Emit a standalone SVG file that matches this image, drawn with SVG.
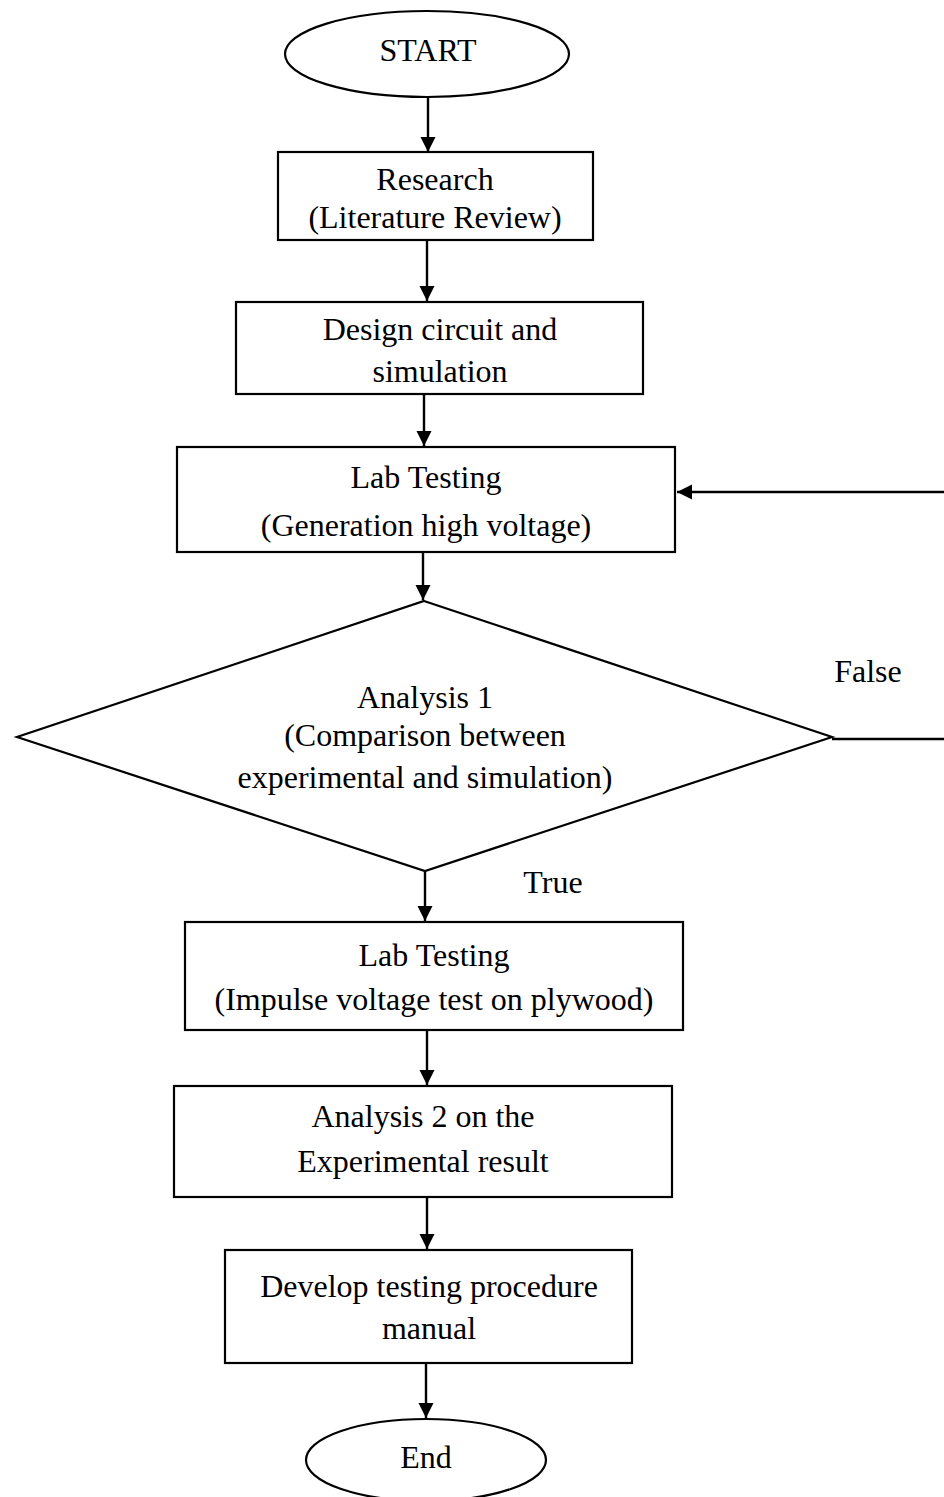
<svg xmlns="http://www.w3.org/2000/svg" width="944" height="1497" viewBox="0 0 944 1497">
<defs>
<marker id="ah" markerWidth="16" markerHeight="16" refX="15" refY="7.5" orient="auto" markerUnits="userSpaceOnUse">
<path d="M0,0 L15,7.5 L0,15 Z" fill="#000"/>
</marker>
<style>
.s{fill:#fff;stroke:#000;stroke-width:2.2}
.t{font-family:"Liberation Serif","Times New Roman",serif;font-size:32px;fill:#000;text-anchor:middle}
.c{fill:none;stroke:#000;stroke-width:2.4}
</style>
</defs>
<rect width="944" height="1497" fill="#fff"/>
<g id="connectors">
<line class="c" x1="428" y1="97" x2="428" y2="152" marker-end="url(#ah)"/>
<line class="c" x1="427" y1="240" x2="427" y2="301" marker-end="url(#ah)"/>
<line class="c" x1="424" y1="394" x2="424" y2="446" marker-end="url(#ah)"/>
<line class="c" x1="423" y1="552" x2="423" y2="600" marker-end="url(#ah)"/>
<line class="c" x1="425" y1="871" x2="425" y2="921" marker-end="url(#ah)"/>
<line class="c" x1="427" y1="1030" x2="427" y2="1085" marker-end="url(#ah)"/>
<line class="c" x1="427" y1="1197" x2="427" y2="1249" marker-end="url(#ah)"/>
<line class="c" x1="426" y1="1363" x2="426" y2="1418" marker-end="url(#ah)"/>
<line class="c" x1="832" y1="739" x2="944" y2="739"/>
<line class="c" x1="944" y1="492" x2="677" y2="492" marker-end="url(#ah)"/>
<text class="t" x="868" y="682">False</text>
<text class="t" x="553" y="893">True</text>
</g>
<g id="start">
<ellipse class="s" cx="427" cy="54" rx="142" ry="43"/>
<text class="t" x="428" y="61">START</text>
</g>
<g id="research">
<rect class="s" x="278" y="152" width="315" height="88"/>
<text class="t" x="435" y="190">Research</text>
<text class="t" x="435" y="228">(Literature Review)</text>
</g>
<g id="design">
<rect class="s" x="236" y="302" width="407" height="92"/>
<text class="t" x="440" y="340">Design circuit and</text>
<text class="t" x="440" y="382">simulation</text>
</g>
<g id="lab1">
<rect class="s" x="177" y="447" width="498" height="105"/>
<text class="t" x="426" y="488">Lab Testing</text>
<text class="t" x="426" y="536">(Generation high voltage)</text>
</g>
<g id="analysis1">
<polygon class="s" points="424,601 832,737 425,871 17,737"/>
<text class="t" x="425" y="708">Analysis 1</text>
<text class="t" x="425" y="746">(Comparison between</text>
<text class="t" x="425" y="788">experimental and simulation)</text>
</g>
<g id="lab2">
<rect class="s" x="185" y="922" width="498" height="108"/>
<text class="t" x="434" y="966">Lab Testing</text>
<text class="t" x="434" y="1010">(Impulse voltage test on plywood)</text>
</g>
<g id="analysis2">
<rect class="s" x="174" y="1086" width="498" height="111"/>
<text class="t" x="423" y="1127">Analysis 2 on the</text>
<text class="t" x="423" y="1172">Experimental result</text>
</g>
<g id="develop">
<rect class="s" x="225" y="1250" width="407" height="113"/>
<text class="t" x="429" y="1297">Develop testing procedure</text>
<text class="t" x="429" y="1339">manual</text>
</g>
<g id="end">
<ellipse class="s" cx="426" cy="1460" rx="120" ry="41"/>
<text class="t" x="426" y="1468">End</text>
</g>
</svg>
